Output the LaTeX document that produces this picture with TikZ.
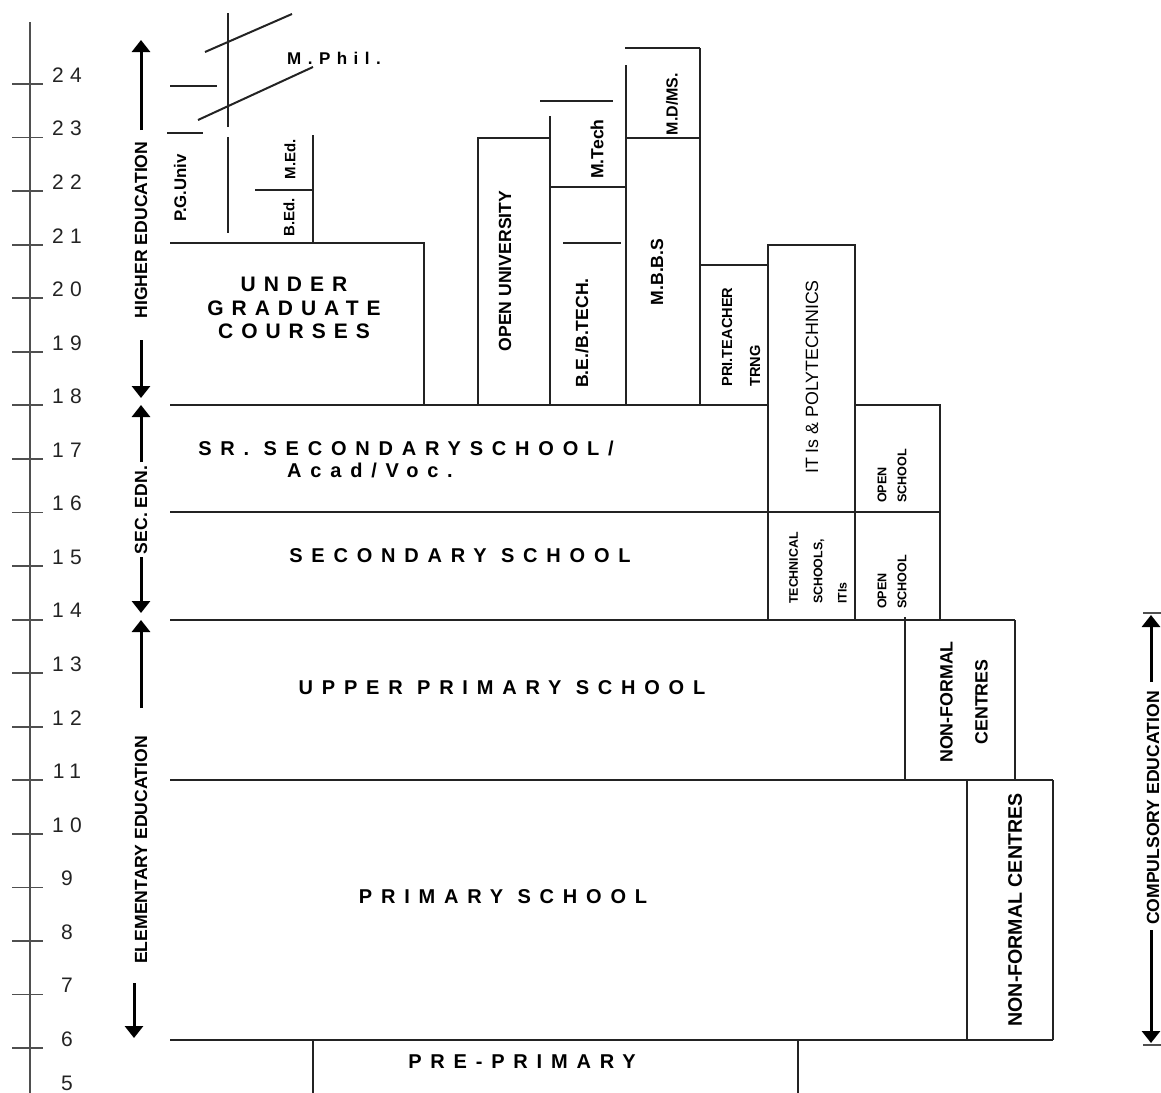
\documentclass[tikz,border=0pt]{standalone}
\usepackage{fontspec}
\setmainfont{Liberation Sans}
\newfontfamily\spc[LetterSpace=38]{Liberation Sans}
\newfontfamily\spcw[LetterSpace=44]{Liberation Sans}
\newfontfamily\spn[LetterSpace=30]{Liberation Sans}
\usetikzlibrary{arrows.meta}
\definecolor{ink}{RGB}{35,35,35}
\begin{document}
\begin{tikzpicture}[x=0.5pt,y=-0.5pt,line width=1pt,draw=ink,
  vlab/.style={rotate=90,inner sep=0,text=black,font=\bfseries\fontsize{8.8}{10}\selectfont},
  blk/.style={inner sep=0,text=black,align=center,font=\spcw\bfseries\fontsize{10}{12}\selectfont},
  tick/.style={inner sep=0,text=ink,font=\spn\fontsize{10.5}{12}\selectfont},
  arr/.style={line width=1.5pt,draw=black,-{Triangle[width=9pt,length=6pt]}},
  thin/.style={line width=0.9pt,draw=ink!80}]
\useasboundingbox (0,0) rectangle (1161,1092);
\clip (0,0) rectangle (1161,1092);
% ---------- age axis ----------
\draw[thin] (30,22) -- (30,1100);
\foreach \a in {6,...,24}{
  \pgfmathsetmacro\yy{84+(24-\a)*53.56}
  \draw[thin] (12,\yy) -- (43,\yy);
  \node[tick] (age\a) at (67,\yy-9) {\a};
}
\draw[thin] (12,1101.6) -- (43,1101.6);
\node[tick] (age5) at (67,1083) {5};
% ---------- left stage arrows ----------
\coordinate (heT) at (141,40);   \coordinate (heA) at (141,130);
\coordinate (heB) at (141,340);  \coordinate (heD) at (141,398);
\node[vlab] (he) at (141,230) {HIGHER EDUCATION};
\draw[arr] (heA) -- (heT);
\draw[arr] (heB) -- (heD);
\coordinate (seT) at (141,405);  \coordinate (seA) at (141,462);
\coordinate (seB) at (141,557);  \coordinate (seD) at (141,613);
\node[vlab] (se) at (141,510) {SEC. EDN.};
\draw[arr] (seA) -- (seT);
\draw[arr] (seB) -- (seD);
\coordinate (elT) at (141,620);  \coordinate (elA) at (141,708);
\coordinate (elB) at (134,983);  \coordinate (elD) at (134,1038);
\node[vlab] (el) at (141,850) {ELEMENTARY EDUCATION};
\draw[arr] (elA) -- (elT);
\draw[arr] (elB) -- (elD);
% ---------- compulsory education ----------
\draw[thin] (1143,613) -- (1161,613);
\draw[thin] (1143,1045) -- (1161,1045);
\coordinate (ceT) at (1151,615);  \coordinate (ceA) at (1151,682);
\coordinate (ceB) at (1151,930);  \coordinate (ceD) at (1151,1043);
\node[vlab] (ce) at (1153,808) {COMPULSORY EDUCATION};
\draw[arr] (ceA) -- (ceT);
\draw[arr] (ceB) -- (ceD);
% ---------- main horizontal levels ----------
\draw (170,1040) -- (1053,1040);
\draw (170,780) -- (1053,780);
\draw (170,620) -- (1015,620);
\draw (170,512) -- (940,512);
\draw (170,405) -- (768,405);
% pre-primary
\draw (313,1100) -- (313,1040);
\draw (798,1040) -- (798,1100);
% non-formal centres
\draw (967,780) -- (967,1040);
\draw (1053,780) -- (1053,1040);
\draw (905,617) -- (905,780);
\draw (1015,620) -- (1015,780);
% ITIs / polytechnics and open school
\draw (768,245) rectangle (855,620);
\draw (855,405) -- (940,405) -- (940,620);
% pri teacher training
\draw (700,265) -- (768,265);
% MBBS / MD
\draw (700,48) -- (700,405);
\draw (626,65) -- (626,405);
\draw (626,138) -- (700,138);
\draw (625,48) -- (700,48);
% BE / MTech
\draw (550,116) -- (550,405);
\draw (550,187) -- (626,187);
\draw (563,243) -- (621,243);
\draw (540,101) -- (613,101);
% open university
\draw (478,405) -- (478,138) -- (550,138);
% under graduate
\draw (170,243) -- (424,243) -- (424,405);
% B.Ed / M.Ed
\draw (313,135) -- (313,243);
\draw (255,190) -- (313,190);
% PG / M.Phil
\draw (228,137) -- (228,233);
\draw (228,13) -- (228,127);
\draw (167,133) -- (203,133);
\draw (170,86) -- (217,86);
\draw (205,52) -- (292,14);
\draw (198,120) -- (313,67);
% ---------- horizontal labels ----------
\node[blk,font=\spc\bfseries\fontsize{10.5}{11.8}\selectfont] (ug) at (294,308) {UNDER\\GRADUATE\\COURSES};
\node[blk] (sr1) at (406,448) {SR. SECONDARYSCHOOL/};
\node[blk] (sr2) at (370,470) {Acad/Voc.};
\node[blk] (sec) at (460,556) {SECONDARY SCHOOL};
\node[blk] (upr) at (502,688) {UPPER PRIMARY SCHOOL};
\node[blk] (pri) at (503,897) {PRIMARY SCHOOL};
\node[blk] (pre) at (522,1062) {PRE-PRIMARY};
\node[blk,font=\spc\bfseries\fontsize{8.5}{10}\selectfont] (mph) at (334,58) {M.Phil.};
% ---------- vertical labels ----------
\node[vlab,font=\bfseries\fontsize{8.4}{10}\selectfont] (pg) at (180,188) {P.G.Univ};
\node[vlab,font=\bfseries\fontsize{7.5}{9}\selectfont] (bed) at (289,217) {B.Ed.};
\node[vlab,font=\bfseries\fontsize{7.5}{9}\selectfont] (med) at (290,159) {M.Ed.};
\node[vlab] (ou) at (505,271) {OPEN UNIVERSITY};
\node[vlab] (be) at (582,333) {B.E./B.TECH.};
\node[vlab] (mt) at (597,149) {M.Tech};
\node[vlab] (mb) at (657,272) {M.B.B.S};
\node[vlab,font=\bfseries\fontsize{8}{9}\selectfont] (md) at (672,104) {M.D/MS.};
\node[vlab,align=left,font=\bfseries\fontsize{7.3}{14}\selectfont] (ptt) at (741,337) {PRI.TEACHER\\TRNG};
\node[vlab,font=\fontsize{8.9}{10}\selectfont] (iti) at (812,377) {IT Is \& POLYTECHNICS};
\node[vlab,align=left,font=\bfseries\fontsize{6.3}{10}\selectfont] (os1) at (892,476) {OPEN\\SCHOOL};
\node[vlab,align=left,font=\bfseries\fontsize{6.3}{10}\selectfont] (os2) at (892,582) {OPEN\\SCHOOL};
\node[vlab,align=left,font=\bfseries\fontsize{6.2}{12.2}\selectfont] (tech) at (818,568) {TECHNICAL\\SCHOOLS,\\ITIs};
\node[vlab,align=center,font=\bfseries\fontsize{8.9}{17.5}\selectfont] (nf1) at (964,702) {NON-FORMAL\\CENTRES};
\node[vlab,font=\bfseries\fontsize{9.8}{11}\selectfont] (nf2) at (1015,910) {NON-FORMAL CENTRES};
\end{tikzpicture}
\end{document}
